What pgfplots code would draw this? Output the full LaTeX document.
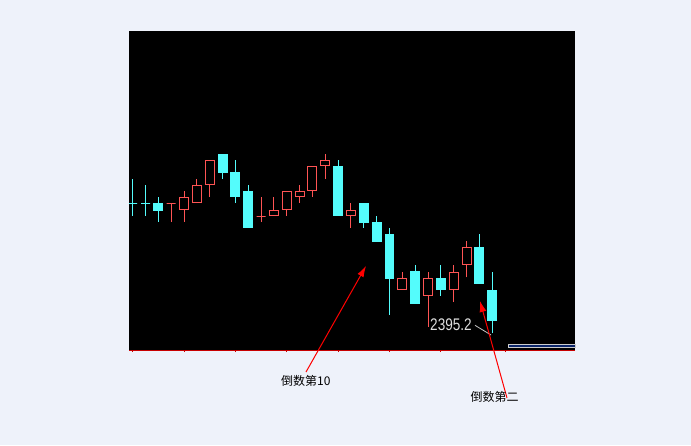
\documentclass[border=0pt]{standalone}
\usepackage{fontspec}
\setmainfont{Liberation Sans}
\newfontfamily\cjk{Noto Sans CJK SC}
\usepackage{pgfplots}
\pgfplotsset{compat=1.18}
\usetikzlibrary{arrows.meta}
\definecolor{bg}{RGB}{238,242,250}
\definecolor{cy}{RGB}{84,252,252}
\definecolor{rd}{RGB}{255,84,84}
\definecolor{axred}{RGB}{200,0,0}
\definecolor{navy}{RGB}{10,36,106}
% #1 position, #2 open, #3 high, #4 low, #5 close
\newcommand{\candleup}[5]{%
  \addplot[rd, line width=1pt] coordinates {(#1,#4) (#1,#3)};
  \addplot[rd, line width=1pt, fill=black] table[row sep=\\, x expr=\thisrow{x}+\thisrow{d}, y=y]
    {x d y\\ #1 -0.35 #2\\ #1 0.35 #2\\ #1 0.35 #5\\ #1 -0.35 #5\\} -- cycle;}
\newcommand{\candledn}[5]{%
  \addplot[cy, line width=1pt] coordinates {(#1,#4) (#1,#3)};
  \addplot[cy, line width=1pt, fill=cy] table[row sep=\\, x expr=\thisrow{x}+\thisrow{d}, y=y]
    {x d y\\ #1 -0.35 #2\\ #1 0.35 #2\\ #1 0.35 #5\\ #1 -0.35 #5\\} -- cycle;}
\begin{document}
\begin{tikzpicture}
\fill[bg] (0pt,0pt) rectangle (691pt,-445pt);
\useasboundingbox (0pt,0pt) rectangle (691pt,-445pt);
\begin{axis}[at={(129pt,-350pt)}, anchor=south west, scale only axis,
  width=446pt, height=319pt,
  xmin=0.712, xmax=35.447, ymin=2378.5, ymax=2697.5,
  axis background/.style={fill=black},
  axis x line*=bottom, axis y line=none,
  x axis line style={axred, line width=1pt, -},
  xtick={1,5,9,13,17,21,25,30}, xticklabels={}, ytick=\empty,
  tick style={axred, line width=0.8pt}, major tick length=2pt, tick align=outside,
  line join=miter,
]
\candledn{1}{2525.2}{2549.5}{2512.8}{2525.2}
\candledn{2}{2525.2}{2543.5}{2512.8}{2525.2}
\candledn{3}{2525.5}{2531.5}{2506.8}{2518.5}
\candleup{4}{2525.2}{2525.2}{2506.8}{2525.2}
\candleup{5}{2518.8}{2537.5}{2506.8}{2531.2}
\candleup{6}{2525.8}{2549.5}{2525.8}{2543.5}
\candleup{7}{2544.2}{2568.2}{2531.8}{2568.2}
\candledn{8}{2574.5}{2574.5}{2549.5}{2556.5}
\candledn{9}{2556.5}{2568.5}{2525.8}{2531.8}
\candledn{10}{2537.5}{2543.8}{2500.8}{2500.8}
\candleup{11}{2512.2}{2531.5}{2506.8}{2512.2}
\candleup{12}{2513.2}{2531.5}{2513.2}{2518.2}
\candleup{13}{2518.8}{2537.2}{2512.8}{2537.2}
\candleup{14}{2531.8}{2543.5}{2525.8}{2537.2}
\candleup{15}{2537.8}{2562.5}{2531.8}{2562.5}
\candleup{16}{2562.8}{2574.5}{2549.8}{2568.5}
\candledn{17}{2562.5}{2568.5}{2512.8}{2512.8}
\candleup{18}{2512.8}{2525.5}{2500.8}{2518.2}
\candledn{19}{2525.5}{2525.5}{2500.8}{2506.5}
\candledn{20}{2506.5}{2512.5}{2487.5}{2487.5}
\candledn{21}{2494.5}{2500.5}{2413.5}{2450.5}
\candleup{22}{2438.8}{2456.5}{2438.8}{2450.5}
\candledn{23}{2456.8}{2463.2}{2425.5}{2425.5}
\candleup{24}{2432.8}{2456.5}{2401.8}{2450.2}
\candledn{25}{2450.2}{2463.8}{2432.8}{2438.8}
\candleup{26}{2438.8}{2463.8}{2426.5}{2456.2}
\candleup{27}{2464.2}{2487.5}{2451.2}{2481.2}
\candledn{28}{2481.2}{2494.5}{2445.2}{2445.2}
\candledn{29}{2438.5}{2456.2}{2395.2}{2408.2}
\end{axis}
% small scrollbar box
\draw[gray!40, fill=navy, line width=0.8pt] (508pt,-344pt) rectangle (575pt,-347.5pt);
% low annotation
\node[text=gray!25, font=\fontsize{14}{14}\selectfont, inner sep=0pt] at (451pt,-325pt) {\scalebox{0.97}[1.2]{2395.2}};
\draw[gray!45, line width=0.8pt] (475pt,-325.3pt) -- (491pt,-335pt);
% arrows and notes
\draw[red, line width=1pt, -{Latex[length=11pt,width=7pt]}] (306pt,-372pt) -- (366pt,-266pt);
\draw[red, line width=1pt, -{Latex[length=11pt,width=7pt]}] (507pt,-398pt) -- (480pt,-301pt);
\node[font=\cjk\fontsize{12}{12}\selectfont, inner sep=0pt] at (305.8pt,-380.7pt) {倒数第10};
\node[font=\cjk\fontsize{12}{12}\selectfont, inner sep=0pt] at (494.5pt,-397.3pt) {倒数第二};
\end{tikzpicture}
\end{document}
